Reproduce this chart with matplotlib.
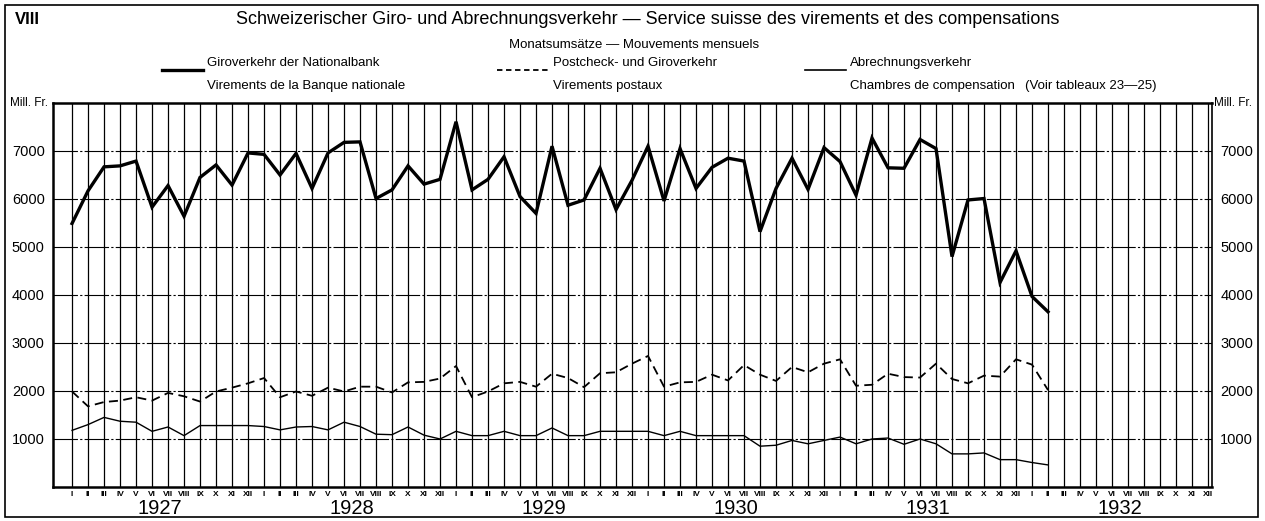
import matplotlib.pyplot as plt
from matplotlib.patches import Rectangle
import numpy as np

plt.rcParams['font.family'] = ['Liberation Sans', 'DejaVu Sans']

# Month and year labels
months = ['I', 'II', 'III', 'IV', 'V', 'VI', 'VII', 'VIII', 'IX', 'X', 'XI', 'XII']
years = ['1927', '1928', '1929', '1930', '1931', '1932']

# Monthly turnover, Mill. Fr. (Jan 1927 - Feb 1932)
giro_nationalbank = [5490, 6170, 6670, 6690, 6790, 5830, 6280, 5640, 6450, 6710, 6290, 6960,
                     6930, 6500, 6950, 6220, 6960, 7180, 7190, 6010, 6190, 6690, 6310, 6410,
                     7610, 6190, 6410, 6880, 6050, 5700, 7100, 5870, 5980, 6640, 5780, 6390,
                     7100, 5960, 7050, 6220, 6660, 6850, 6790, 5320, 6220, 6850, 6200, 7070,
                     6780, 6080, 7270, 6650, 6640, 7240, 7050, 4800, 5980, 6010, 4260, 4920,
                     3970, 3650]
postcheck = [1990, 1680, 1770, 1800, 1870, 1800, 1960, 1890, 1780, 1990, 2070, 2160,
             2270, 1870, 1990, 1900, 2070, 1990, 2090, 2090, 1970, 2180, 2190, 2260,
             2520, 1870, 1990, 2160, 2190, 2090, 2360, 2270, 2080, 2370, 2390, 2570,
             2730, 2090, 2180, 2190, 2340, 2220, 2540, 2340, 2210, 2500, 2390, 2570,
             2660, 2110, 2130, 2360, 2290, 2280, 2570, 2250, 2160, 2320, 2300, 2660,
             2550, 2020]
abrechnung = [1180, 1300, 1450, 1370, 1350, 1160, 1250, 1070, 1280, 1280, 1280, 1280,
              1260, 1190, 1250, 1260, 1190, 1350, 1260, 1100, 1090, 1250, 1080, 1000,
              1160, 1070, 1070, 1160, 1070, 1070, 1230, 1070, 1070, 1160, 1160, 1160,
              1160, 1070, 1160, 1070, 1070, 1070, 1070, 850, 870, 970, 900, 970,
              1040, 900, 1000, 1020, 890, 1000, 900, 690, 690, 710, 570, 570,
              510, 460]

n_months = len(months) * len(years)
x_all = np.arange(n_months)

fig = plt.figure(figsize=(12.65, 5.21), dpi=100)
ax = fig.add_axes([53 / 1265, 34 / 521, (1212 - 53) / 1265, (487 - 103) / 521])

# grid
for xi in x_all:
    ax.axvline(xi, color='black', lw=0.9, zorder=1)
for yv in range(1000, 8000, 1000):
    ax.axhline(yv, color='black', lw=0.8, linestyle=(0, (22, 2, 2, 2)), zorder=1)

ax.plot(np.arange(len(giro_nationalbank)), giro_nationalbank, color='black', lw=2.4,
        solid_joinstyle='miter', zorder=3)
ax.plot(np.arange(len(postcheck)), postcheck, color='black', lw=1.3,
        linestyle=(0, (5, 3)), zorder=3)
ax.plot(np.arange(len(abrechnung)), abrechnung, color='black', lw=1.0, zorder=3)

ax.set_xlim(-1.19, 71.25)
ax.set_ylim(0, 8000)
ax.set_yticks(range(1000, 8000, 1000))
ax.set_yticklabels([str(v) for v in range(1000, 8000, 1000)], fontsize=10.5)
ax.tick_params(axis='y', length=0, pad=6, labelleft=True, labelright=True)
ax.set_xticks(x_all)
ax.set_xticklabels(months * len(years), fontsize=6, fontweight='bold')
ax.tick_params(axis='x', length=0, pad=3)
for side in ['left', 'bottom', 'top']:
    ax.spines[side].set_linewidth(1.8)
ax.spines['right'].set_linewidth(1.2)

# year labels
for i, yr in enumerate(years):
    ax.text(12 * i + 5.5, -0.055, yr, transform=ax.get_xaxis_transform(),
            ha='center', va='center', fontsize=14.5)

# header texts
fig.text(15 / 1265, 1 - 19 / 521, 'VIII', fontsize=12, fontweight='bold', va='center')
fig.text(648 / 1265, 1 - 19 / 521,
         'Schweizerischer Giro- und Abrechnungsverkehr \u2014 Service suisse des virements et des compensations',
         fontsize=13, ha='center', va='center')
fig.text(634 / 1265, 1 - 45 / 521, 'Monatsums\u00e4tze \u2014 Mouvements mensuels',
         fontsize=9.5, ha='center', va='center')

y1 = 1 - 63 / 521
y2 = 1 - 86 / 521
fig.add_artist(plt.Line2D([162 / 1265, 203 / 1265], [1 - 70 / 521] * 2, color='black', lw=2.4))
fig.text(207 / 1265, y1, 'Giroverkehr der Nationalbank', fontsize=9.5, va='center')
fig.text(207 / 1265, y2, 'Virements de la Banque nationale', fontsize=9.5, va='center')
fig.add_artist(plt.Line2D([497 / 1265, 548 / 1265], [1 - 70 / 521] * 2, color='black', lw=1.3,
                          linestyle=(0, (3, 2))))
fig.text(553 / 1265, y1, 'Postcheck- und Giroverkehr', fontsize=9.5, va='center')
fig.text(553 / 1265, y2, 'Virements postaux', fontsize=9.5, va='center')
fig.add_artist(plt.Line2D([805 / 1265, 846 / 1265], [1 - 70 / 521] * 2, color='black', lw=1.2))
fig.text(850 / 1265, y1, 'Abrechnungsverkehr', fontsize=9.5, va='center')
fig.text(850 / 1265, y2, 'Chambres de compensation', fontsize=9.5, va='center')
fig.text(1025 / 1265, y2, '(Voir tableaux 23\u201425)', fontsize=9.5, va='center')

fig.text(10 / 1265, 1 - 103 / 521, 'Mill. Fr.', fontsize=8.5, va='center')
fig.text(1214 / 1265, 1 - 103 / 521, 'Mill. Fr.', fontsize=8.5, va='center')

# outer frame
fig.patches.append(Rectangle((5 / 1265, 4 / 521), 1253 / 1265, 512 / 521, transform=fig.transFigure,
                             fill=False, edgecolor='black', lw=1.2))

fig.savefig('out.png', dpi=100)
